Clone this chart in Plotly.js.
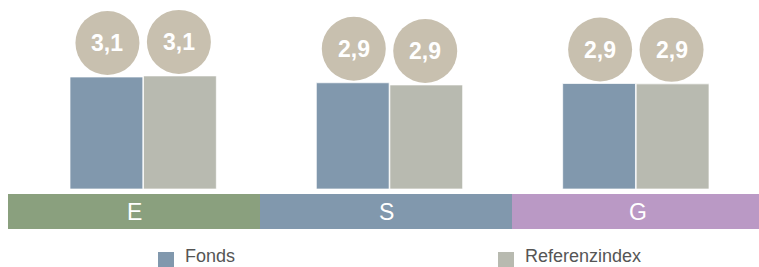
<!DOCTYPE html>
<html>
<head>
<meta charset="utf-8">
<script src="https://cdn.plot.ly/plotly-3.0.1.min.js"></script>
<style>html,body{margin:0;padding:0;background:#fff;}#chart{width:759px;height:267px;}</style>
</head>
<body>
<div id="chart"></div>
<script>
// ---- data ----
var categories = ["E", "S", "G"];
var seriesNames = ["Fonds", "Referenzindex"];
var fondsValues = [3.10, 2.94, 2.92];
var refValues = [3.13, 2.88, 2.91];

// ---- styles ----
var fondsColor = "#8198ad";
var refColor = "#b8bab0";
var circleColor = "#c8c0af";
var bandColors = ["#8aa07e", "#8198ad", "#ba99c5"];
var seriesColors = [fondsColor, refColor];
var FONT = "Liberation Sans, Arial, sans-serif";

var W = 759, H = 267;
var mL = 20, mR = 0, mT = 0, mB = 38;
var plotW = W - mL - mR, plotH = H - mT - mB;
function pxX(px) { return (px - mL) / plotW; }          // pixel -> paper x
function pxY(py) { return (H - mB - py) / plotH; }       // pixel (from top) -> paper y

function fmt(v) { return v.toFixed(1).replace(".", ","); }

var traces = [
  {type: "bar", name: seriesNames[0], x: categories, y: fondsValues,
   marker: {color: fondsColor, line: {color: "rgba(255,255,255,0.7)", width: 1}},
   hoverinfo: "skip", showlegend: false},
  {type: "bar", name: seriesNames[1], x: categories, y: refValues,
   marker: {color: refColor, line: {color: "rgba(255,255,255,0.7)", width: 1}},
   hoverinfo: "skip", showlegend: false}
];

var shapes = [];
var annotations = [];

// category bands below the bars
var bandStart = 8, bandWidth = 252;
categories.forEach(function (c, i) {
  var x0 = bandStart + i * bandWidth, x1 = x0 + bandWidth;
  shapes.push({type: "rect", xref: "paper", yref: "paper",
    x0: pxX(x0), x1: pxX(Math.min(x1, W + 5)), y0: pxY(229), y1: pxY(194),
    fillcolor: bandColors[i], line: {width: 0}, layer: "below"});
  annotations.push({xref: "paper", yref: "paper", x: pxX((x0 + x1) / 2), y: pxY(211.5),
    text: c, showarrow: false, xanchor: "center", yanchor: "middle",
    font: {family: FONT, size: 23, color: "#ffffff"}});
});

// value bubbles above each bar
var off = 0.145;
[fondsValues, refValues].forEach(function (vals, s) {
  vals.forEach(function (v, i) {
    var xa = i + (s === 0 ? -off : off);
    shapes.push({type: "circle", xref: "x", yref: "y", xsizemode: "pixel", ysizemode: "pixel",
      xanchor: xa, yanchor: v, x0: -32, x1: 32, y0: 2, y1: 66,
      fillcolor: circleColor, line: {width: 0}});
    annotations.push({xref: "x", yref: "y", x: xa, y: v, yshift: 34, text: "<b>" + fmt(v) + "</b>",
      showarrow: false, xanchor: "center", yanchor: "middle",
      font: {family: FONT, size: 23, color: "#ffffff"}});
  });
});

// legend (drawn at the bottom edge like the reference)
var legendX = [158, 498];
seriesNames.forEach(function (name, s) {
  shapes.push({type: "rect", xref: "paper", yref: "paper",
    x0: pxX(legendX[s]), x1: pxX(legendX[s] + 16), y0: pxY(268), y1: pxY(252),
    fillcolor: seriesColors[s], line: {width: 0}});
  annotations.push({xref: "paper", yref: "paper", x: pxX(legendX[s] + 26), y: pxY(267),
    text: name, showarrow: false, xanchor: "left", yanchor: "bottom", borderpad: 0,
    font: {family: FONT, size: 18, color: "#555555"}});
});

var pxPerUnit = 112 / 3.1;
var layout = {
  width: W, height: H,
  margin: {l: mL, r: mR, t: mT, b: mB, pad: 0},
  paper_bgcolor: "#ffffff", plot_bgcolor: "#ffffff",
  barmode: "group", bargap: 0.403, bargroupgap: 0.01,
  xaxis: {type: "category", range: [-0.5, 2.5], showgrid: false, zeroline: false,
    showline: false, showticklabels: false, ticks: "", fixedrange: true},
  yaxis: {range: [-40 / pxPerUnit, 189 / pxPerUnit], showgrid: false, zeroline: false,
    showline: false, showticklabels: false, ticks: "", fixedrange: true},
  showlegend: false,
  shapes: shapes,
  annotations: annotations
};

Plotly.newPlot("chart", traces, layout, {staticPlot: true, displayModeBar: false});
</script>
</body>
</html>
